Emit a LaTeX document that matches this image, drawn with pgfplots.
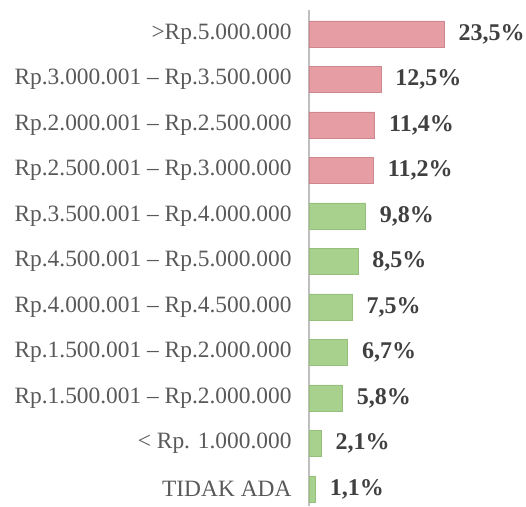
\documentclass[border=0pt]{standalone}
\usepackage{pgfplots}
\pgfplotsset{compat=1.18}
\usepackage{fontspec}
\setmainfont{Liberation Serif}
\definecolor{pinkbar}{RGB}{230,157,164}
\definecolor{pinkedge}{RGB}{205,135,142}
\definecolor{greenbar}{RGB}{169,209,142}
\definecolor{greenedge}{RGB}{150,190,125}
\definecolor{labgray}{RGB}{89,89,89}
\definecolor{valgray}{RGB}{64,64,64}
\definecolor{axgray}{RGB}{191,191,191}
\begin{document}
\begin{tikzpicture}
\begin{axis}[
  xbar, bar shift=0pt, bar width=26pt,
  scale only axis, width=217pt, height=496pt,
  xmin=0, xmax=37.77, ymin=-0.374, ymax=10.527,
  axis lines*=left,
  x axis line style={draw=none},
  y axis line style={draw=axgray, line width=1.2pt},
  xtick=\empty,
  ytick={0,...,10},
  yticklabels={TIDAK ADA,{< Rp. 1.000.000},Rp.1.500.001 – Rp.2.000.000,Rp.1.500.001 – Rp.2.000.000,Rp.4.000.001 – Rp.4.500.000,Rp.4.500.001 – Rp.5.000.000,Rp.3.500.001 – Rp.4.000.000,Rp.2.500.001 – Rp.3.000.000,Rp.2.000.001 – Rp.2.500.000,Rp.3.000.001 – Rp.3.500.000,>Rp.5.000.000},
  yticklabel style={font=\fontsize{23.4}{26}\selectfont, text=labgray, anchor=east, xshift=-14pt},
  major tick length=0pt,
  ytick style={draw=none},
  clip=false,
  nodes near coords={\pgfmathprintnumber[fixed, fixed zerofill, precision=1, use comma, assume math mode=true]{\pgfplotspointmeta}\%},
  nodes near coords style={font=\bfseries\fontsize{24}{27}\selectfont, text=valgray, anchor=west, xshift=11pt},
  point meta=explicit,
]
\addplot[fill=greenbar, draw=greenedge, line width=0.6pt] coordinates {
  (1.1,0) [1.1] (2.1,1) [2.1] (5.8,2) [5.8] (6.7,3) [6.7] (7.5,4) [7.5] (8.5,5) [8.5] (9.8,6) [9.8]
};
\addplot[fill=pinkbar, draw=pinkedge, line width=0.6pt] coordinates {
  (11.2,7) [11.2] (11.4,8) [11.4] (12.5,9) [12.5] (23.5,10) [23.5]
};
\end{axis}
\pgfresetboundingbox
\path ([xshift=-309pt]current axis.south west) rectangle ([yshift=10pt]current axis.north east);
\end{tikzpicture}
\end{document}
